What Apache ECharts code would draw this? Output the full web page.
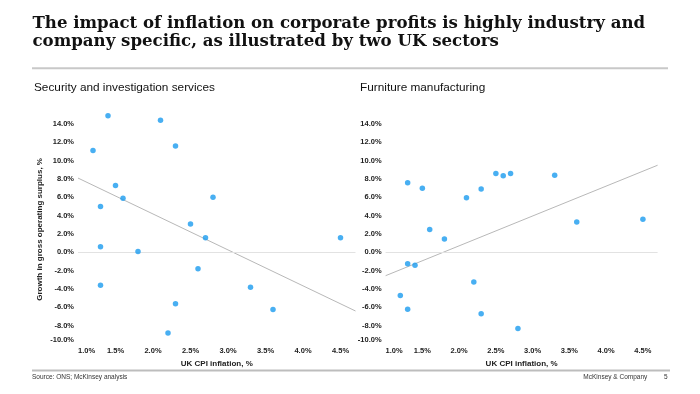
<!DOCTYPE html>
<html>
<head>
<meta charset="utf-8">
<script src="https://cdn.jsdelivr.net/npm/echarts@6/dist/echarts.min.js"></script>
<style>
html,body{margin:0;padding:0;background:#fff;}
#chart{width:700px;height:394px;}
</style>
</head>
<body>
<div id="chart"></div>
<script>
// UK CPI inflation, % (x values, shared by both sectors)
const cpiInflation = [1.2, 1.3, 1.3, 1.3, 1.4, 1.5, 1.6, 1.8, 2.1, 2.2, 2.3, 2.3, 2.5, 2.6, 2.7, 2.8, 3.3, 3.6, 4.5];
// Growth in gross operating surplus, %
const securityGrowth = [11.1, 5.0, 0.6, -3.6, 14.9, 7.3, 5.9, 0.1, 14.4, -8.8, 11.6, -5.6, 3.1, -1.8, 1.6, 6.0, -3.8, -6.25, 1.6];
const furnitureGrowth = [-4.7, 7.6, -1.25, -6.2, -1.4, 7.0, 2.5, 1.45, 5.95, -3.25, 6.9, -6.7, 8.6, 8.35, 8.6, -8.3, 8.4, 3.3, 3.6];
// trend line end points [x, y]
const securityTrend = [[1.0, 8.1], [4.7, -6.4]];
const furnitureTrend = [[1.0, -2.55], [4.7, 9.5]];
// axes
const xTicks = {min: 1.0, max: 4.7, interval: 0.5};
const yTicks = {min: -10, max: 15, interval: 2};
const panelTitles = ['Security and investigation services', 'Furniture manufacturing'];
const titleLines = ['The impact of inflation on corporate profits is highly industry and', 'company specific, as illustrated by two UK sectors'];

const chart = echarts.init(document.getElementById('chart'), null, {renderer: 'canvas'});
const sans = 'Liberation Sans, Arial, sans-serif';
const dotColor = '#1A9BEF';

function pairs(xs, ys) { return xs.map((x, i) => [x, ys[i]]); }

function xAxis(idx) {
  return {
    type: 'value', gridIndex: idx,
    min: xTicks.min, max: xTicks.max, interval: xTicks.interval,
    name: 'UK CPI inflation, %', nameLocation: 'middle', nameGap: 14,
    nameTextStyle: {fontFamily: sans, fontWeight: 'bold', fontSize: 8, color: '#222'},
    axisLine: {show: false}, axisTick: {show: false}, splitLine: {show: false},
    axisLabel: {
      fontFamily: sans, fontWeight: 'bold', fontSize: 7.5, color: '#222', margin: 3,
      showMaxLabel: false, alignMinLabel: 'left',
      formatter: v => v.toFixed(1) + '%'
    }
  };
}
function yAxis(idx, withName) {
  return {
    type: 'value', gridIndex: idx,
    min: yTicks.min, max: yTicks.max, interval: yTicks.interval,
    name: withName ? 'Growth in gross operating surplus, %' : '',
    nameLocation: 'middle', nameGap: 34,
    nameTextStyle: {fontFamily: sans, fontWeight: 'bold', fontSize: 8, color: '#222'},
    axisLine: {show: false}, axisTick: {show: false}, splitLine: {show: false},
    axisLabel: {
      fontFamily: sans, fontWeight: 'bold', fontSize: 7.5, color: '#222', margin: 4,
      showMaxLabel: false, verticalAlignMinLabel: 'bottom',
      formatter: v => v.toFixed(1) + '%'
    }
  };
}
function scatter(idx, ys) {
  return {
    type: 'scatter', xAxisIndex: idx, yAxisIndex: idx,
    data: pairs(cpiInflation, ys), symbolSize: 5.5,
    itemStyle: {color: dotColor}, z: 5, clip: false,
    markLine: {
      silent: true, symbol: 'none', label: {show: false},
      lineStyle: {color: '#e2e2e2', width: 1, type: 'solid'},
      data: [{yAxis: 0}], animation: false
    }
  };
}
function trend(idx, pts) {
  return {
    type: 'line', xAxisIndex: idx, yAxisIndex: idx, data: pts,
    symbol: 'none', lineStyle: {color: '#b8b8b8', width: 1}, z: 3, silent: true
  };
}

const titleFont = 'bold 16.6px "DejaVu Serif", serif';
const option = {
  animation: false,
  backgroundColor: '#fff',
  grid: [
    {left: 78, top: 114.8, width: 277.5, height: 229.2},
    {left: 385.6, top: 114.8, width: 272, height: 229.2}
  ],
  xAxis: [xAxis(0), xAxis(1)],
  yAxis: [yAxis(0, true), yAxis(1, false)],
  series: [
    trend(0, securityTrend), trend(1, furnitureTrend),
    scatter(0, securityGrowth), scatter(1, furnitureGrowth)
  ],
  graphic: [
    {type: 'text', x: 32.5, y: 23.4, style: {text: titleLines[0], font: titleFont, fill: '#111', verticalAlign: 'middle'}},
    {type: 'text', x: 32.5, y: 41.4, style: {text: titleLines[1], font: titleFont, fill: '#111', verticalAlign: 'middle'}},
    {type: 'line', shape: {x1: 32, y1: 68.3, x2: 668, y2: 68.3}, style: {stroke: '#c8c8c8', lineWidth: 2}},
    {type: 'text', x: 34, y: 87.3, style: {text: panelTitles[0], font: '11.8px "Liberation Sans", Arial', fill: '#111', verticalAlign: 'middle'}},
    {type: 'text', x: 360, y: 87.3, style: {text: panelTitles[1], font: '11.8px "Liberation Sans", Arial', fill: '#111', verticalAlign: 'middle'}},
    {type: 'line', shape: {x1: 32, y1: 370.5, x2: 670, y2: 370.5}, style: {stroke: '#bdbdbd', lineWidth: 2}},
    {type: 'text', x: 32, y: 377.3, style: {text: 'Source: ONS; McKinsey analysis', font: '6.5px "Liberation Sans", Arial', fill: '#333', verticalAlign: 'middle'}},
    {type: 'text', x: 647.3, y: 377.3, style: {text: 'McKinsey & Company', font: '6.5px "Liberation Sans", Arial', fill: '#333', verticalAlign: 'middle', align: 'right'}},
    {type: 'text', x: 665.7, y: 377.3, style: {text: '5', font: '6.5px "Liberation Sans", Arial', fill: '#333', verticalAlign: 'middle', align: 'center'}}
  ]
};
chart.setOption(option);
</script>
</body>
</html>
